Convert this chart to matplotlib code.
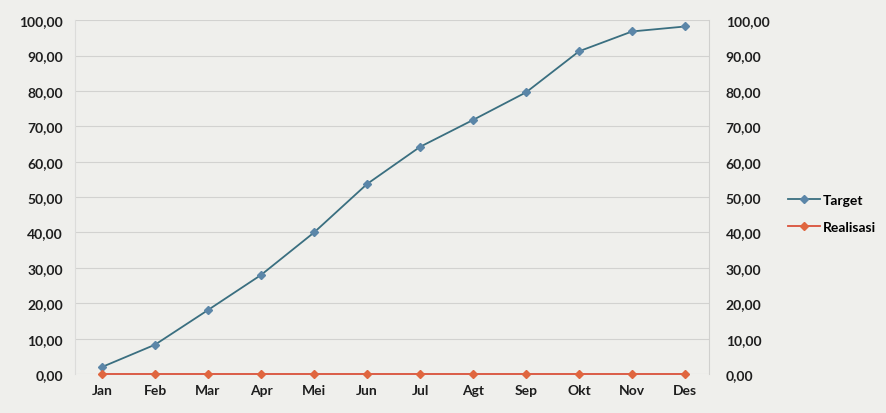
import numpy as np
import matplotlib.pyplot as plt
from matplotlib.ticker import FuncFormatter

# data
months = ['Jan', 'Feb', 'Mar', 'Apr', 'Mei', 'Jun', 'Jul', 'Agt', 'Sep', 'Okt', 'Nov', 'Des']
target = [2.0, 8.3, 18.1, 28.0, 40.0, 53.7, 64.2, 71.8, 79.6, 91.2, 96.8, 98.2]
realisasi = [0, 0, 0, 0, 0, 0, 0, 0, 0, 0, 0, 0]
y_ticks = np.arange(0, 101, 10)

txt_size = 10
plt.rcParams['font.family'] = ['Lato', 'DejaVu Sans']
plt.rcParams['font.weight'] = 'bold'

fig = plt.figure(figsize=(8.87, 4.14), dpi=100)
fig.patch.set_facecolor('#efefec')
ax = fig.add_axes([0.0851, 0.094, 0.7142, 0.855])
ax.set_facecolor('#efefec')

x = np.arange(len(months))
ax.plot(x, target, color='#3a6f80', linewidth=1.3, marker='D', markersize=4,
        markerfacecolor='#5b86a8', markeredgecolor='#5b86a8', label='Target', zorder=3)
ax.plot(x, realisasi, color='#d9513a', linewidth=1.3, marker='D', markersize=4,
        markerfacecolor='#e0663f', markeredgecolor='#e0663f', label='Realisasi', zorder=4,
        clip_on=False)

comma_fmt = FuncFormatter(lambda v, pos: ('%.2f' % v).replace('.', ','))

ax.set_xlim(-0.5, len(months) - 0.55)
ax.set_ylim(0, 100)
ax.set_xticks(x)
ax.set_xticklabels(months)
ax.set_yticks(y_ticks)
ax.yaxis.set_major_formatter(comma_fmt)
ax.tick_params(axis='both', length=0, labelsize=txt_size, colors='#1e1e1e')
ax.tick_params(axis='x', pad=7)
ax.tick_params(axis='y', pad=9)
ax.grid(axis='y', color='#d2d2d0', linewidth=0.8)

for side in ['top', 'bottom']:
    ax.spines[side].set_visible(False)
ax.spines['left'].set_color('#dcdcda')
ax.spines['right'].set_color('#d0d0ce')

ax2 = ax.twinx()
ax2.set_ylim(0, 100)
ax2.set_yticks(y_ticks)
ax2.yaxis.set_major_formatter(comma_fmt)
ax2.tick_params(axis='y', length=0, labelsize=txt_size, colors='#1e1e1e', pad=12)
for side in ['top', 'bottom', 'left', 'right']:
    ax2.spines[side].set_visible(False)

handles, labels = ax.get_legend_handles_labels()
fig.legend(handles, labels, loc='center left', bbox_to_anchor=(0.874, 0.482),
           frameon=False, fontsize=txt_size, handlelength=2.3, labelspacing=1.05,
           handletextpad=0.2)

plt.savefig('out.png', dpi=100, facecolor=fig.get_facecolor())
